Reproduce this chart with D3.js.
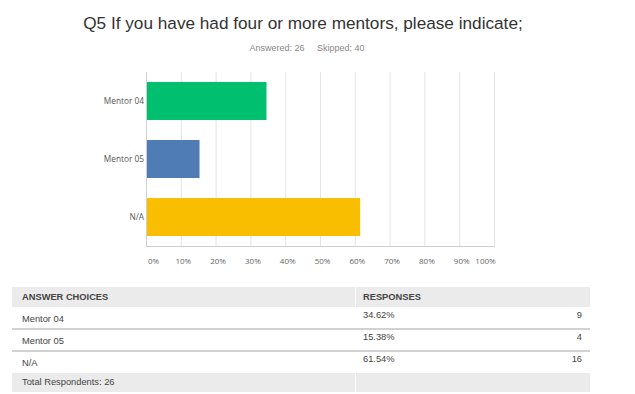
<!DOCTYPE html>
<html>
<head>
<meta charset="utf-8">
<script src="https://cdn.jsdelivr.net/npm/d3@7"></script>
<style>
	body { margin: 0; background: #fff; }
	svg { display: block; }
</style>
</head>
<body>
<svg class="chart"></svg>
<script>
const title = "Q5 If you have had four or more mentors, please indicate;";
const answered = 26;
const skipped = 40;
const categories = ["Mentor 04", "Mentor 05", "N/A"];
const percents = [34.62, 15.38, 61.54];
const counts = [9, 4, 16];
const barColors = ["#00bf6f", "#507cb6", "#f9be00"];
const xTicks = [0, 10, 20, 30, 40, 50, 60, 70, 80, 90, 100];

var width = 635,
	height = 394;

var svg = d3.select(".chart").attr("width", width).attr("height", height);

// title + answered/skipped line
svg
	.append("text")
	.attr("x", 303)
	.attr("y", 29)
	.attr("text-anchor", "middle")
	.attr("font-family", "Liberation Sans, Arial, sans-serif")
	.attr("font-size", 17.2)
	.attr("fill", "#333")
	.text(title);

svg
	.append("text")
	.attr("x", 307)
	.attr("y", 51)
	.attr("text-anchor", "middle")
	.attr("font-family", "Liberation Sans, Arial, sans-serif")
	.attr("font-size", 9)
	.attr("fill", "#888")
	.attr("xml:space", "preserve")
	.text("Answered: " + answered + "     Skipped: " + skipped);

// bar chart
var plot = { left: 146, right: 494, top: 72, bottom: 246 };

let x = d3.scaleLinear().domain([0, 100]).range([plot.left, plot.right]);

let y = d3
	.scaleBand()
	.domain(categories)
	.range([plot.top, plot.bottom])
	.paddingInner(0.345)
	.paddingOuter(0.172);

// gridlines
svg
	.append("g")
	.selectAll("line")
	.data(xTicks.slice(1))
	.join("line")
	.attr("x1", (d) => x(d) + 0.5)
	.attr("x2", (d) => x(d) + 0.5)
	.attr("y1", plot.top)
	.attr("y2", plot.bottom)
	.attr("stroke", "#e4e4e4")
	.attr("stroke-width", 1);

svg
	.append("g")
	.selectAll("rect")
	.data(categories)
	.join("rect")
	.attr("x", x(0))
	.attr("y", (d) => y(d))
	.attr("width", (d, i) => x(percents[i]) - x(0))
	.attr("height", y.bandwidth())
	.attr("fill", (d, i) => barColors[i]);

// axis lines
svg
	.append("line")
	.attr("x1", plot.left + 0.5)
	.attr("x2", plot.left + 0.5)
	.attr("y1", plot.top)
	.attr("y2", plot.bottom)
	.attr("stroke", "#d0d0d0");

svg
	.append("line")
	.attr("x1", plot.left)
	.attr("x2", plot.right + 1)
	.attr("y1", plot.bottom + 0.5)
	.attr("y2", plot.bottom + 0.5)
	.attr("stroke", "#cfcfcf");

let xAxis = (g) =>
	g
		.attr("transform", `translate(0,${plot.bottom})`)
		.call(d3.axisBottom(x).tickValues(xTicks).tickFormat((d) => d + "%").tickSize(0).tickPadding(12))
		.call((g) => g.select(".domain").remove())
		.call((g) =>
			g
				.selectAll("text")
				.attr("font-family", "Open Sans, sans-serif")
				.attr("font-size", 8)
				.attr("fill", "#666")
				.attr("dx", (d) => (d === 0 ? 7 : d === 100 ? -9 : 2))
		);

let yAxis = (g) =>
	g
		.attr("transform", `translate(${plot.left - 2},0)`)
		.call(d3.axisLeft(y).tickSize(0).tickPadding(0))
		.call((g) => g.select(".domain").remove())
		.call((g) =>
			g
				.selectAll("text")
				.attr("font-family", "Open Sans, sans-serif")
				.attr("font-size", 8.3)
				.attr("fill", "#555")
		);

svg.append("g").call(xAxis);
svg.append("g").call(yAxis);

// table below the chart
var table = { left: 12, mid: 355, right: 590, header: 287, rowH: 22 };
var tf = "Liberation Sans, Arial, sans-serif";
var fs = 9.3;

svg
	.append("rect")
	.attr("x", table.left)
	.attr("y", table.header)
	.attr("width", table.mid - table.left)
	.attr("height", 20)
	.attr("fill", "#ebebeb");
svg
	.append("rect")
	.attr("x", table.mid + 1)
	.attr("y", table.header)
	.attr("width", table.right - table.mid - 1)
	.attr("height", 20)
	.attr("fill", "#ebebeb");

svg
	.append("text")
	.attr("x", 22)
	.attr("y", 300)
	.attr("font-family", tf)
	.attr("font-size", fs)
	.attr("font-weight", "bold")
	.attr("fill", "#444")
	.text("ANSWER CHOICES");
svg
	.append("text")
	.attr("x", 363)
	.attr("y", 300)
	.attr("font-family", tf)
	.attr("font-size", fs)
	.attr("font-weight", "bold")
	.attr("fill", "#444")
	.text("RESPONSES");

var rows = svg
	.append("g")
	.selectAll("g")
	.data(categories)
	.join("g")
	.attr("transform", (d, i) => `translate(0,${307 + i * table.rowH})`);

rows
	.filter((d, i) => i > 0)
	.append("rect")
	.attr("x", table.left)
	.attr("y", -1)
	.attr("width", table.right - table.left)
	.attr("height", 2)
	.attr("fill", "#d2d2d2");

rows
	.append("text")
	.attr("x", 22)
	.attr("y", 15)
	.attr("font-family", tf)
	.attr("font-size", fs)
	.attr("fill", "#444")
	.text((d) => d);

rows
	.append("text")
	.attr("x", 363)
	.attr("y", 11)
	.attr("font-family", tf)
	.attr("font-size", fs)
	.attr("fill", "#444")
	.text((d, i) => percents[i].toFixed(2) + "%");

rows
	.append("text")
	.attr("x", 582)
	.attr("y", 11)
	.attr("text-anchor", "end")
	.attr("font-family", tf)
	.attr("font-size", fs)
	.attr("fill", "#444")
	.text((d, i) => counts[i]);

// total respondents row
var totalY = 307 + categories.length * table.rowH;
svg
	.append("rect")
	.attr("x", table.left)
	.attr("y", totalY)
	.attr("width", table.mid - table.left)
	.attr("height", 19)
	.attr("fill", "#ebebeb");
svg
	.append("rect")
	.attr("x", table.mid + 1)
	.attr("y", totalY)
	.attr("width", table.right - table.mid - 1)
	.attr("height", 19)
	.attr("fill", "#ebebeb");
svg
	.append("text")
	.attr("x", 22)
	.attr("y", totalY + 12)
	.attr("font-family", tf)
	.attr("font-size", fs)
	.attr("fill", "#444")
	.text("Total Respondents: " + answered);
</script>
</body>
</html>
